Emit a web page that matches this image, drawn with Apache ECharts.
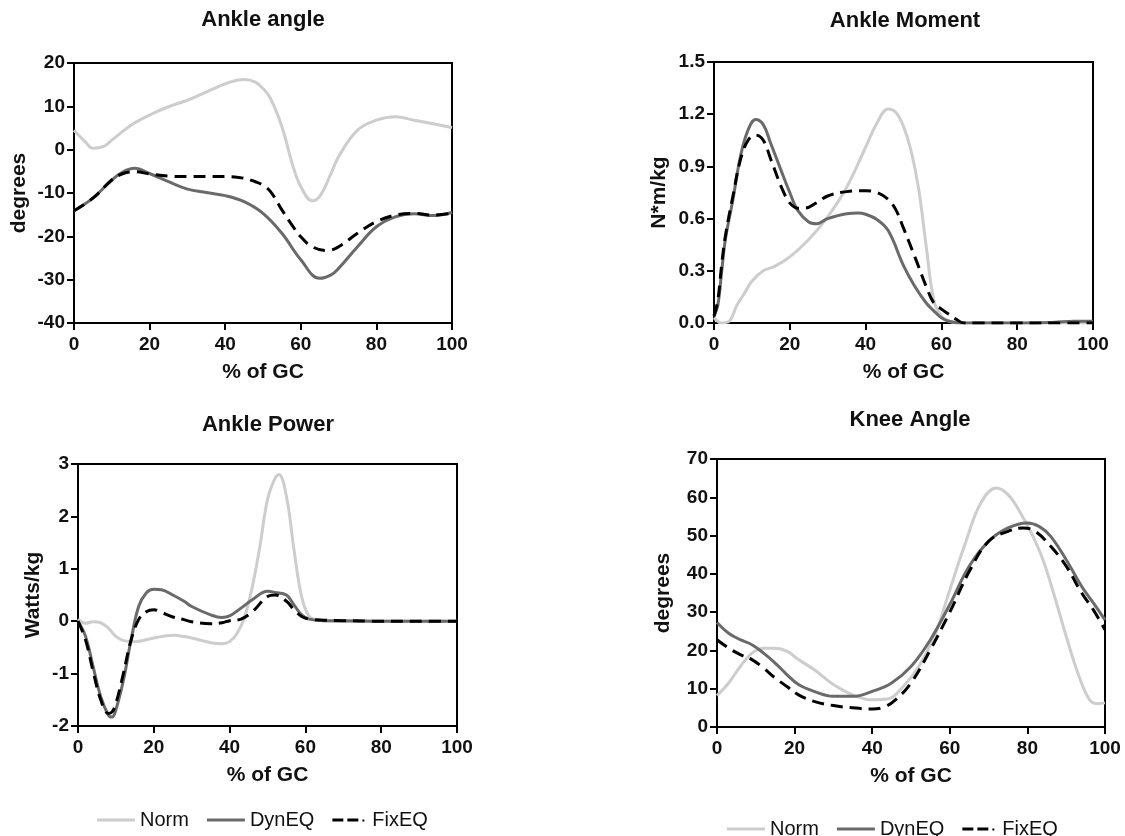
<!DOCTYPE html>
<html>
<head>
<meta charset="utf-8">
<script src="https://cdn.jsdelivr.net/npm/echarts@6/dist/echarts.min.js"></script>
<style>
html,body{margin:0;padding:0;background:#fff;}
#c{width:1125px;height:836px;}
</style>
</head>
<body>
<div id="c"></div>
<script>
// ---- Data ----
const panelTitles = ['Ankle angle', 'Ankle Moment', 'Ankle Power', 'Knee Angle'];
const yNames = ['degrees', 'N*m/kg', 'Watts/kg', 'degrees'];
const xName = '% of GC';
const seriesNames = ['Norm', 'DynEQ', 'FixEQ'];

// Ankle angle
const angleNormX = [0,3,5,8,10,15,20,25,30,35,40,45,48,50,52,55,58,60,63,65,68,70,75,80,85,90,95,100];
const angleNormY = [4.5,1.8,0.3,0.8,2.2,5.6,8,9.9,11.4,13.3,15.2,16.2,15.6,14.1,11.8,5.3,-4,-8.5,-11.8,-10.8,-5.5,-1.6,4.5,6.8,7.6,6.8,6,5.1];
const angleDynX = [0,5,10,13,16,20,25,30,35,40,45,50,55,60,65,68,70,75,80,85,90,95,100];
const angleDynY = [-14.1,-11.2,-7,-5.1,-4.3,-5.5,-7.4,-9.1,-9.9,-10.6,-12,-14.7,-19.3,-25.4,-29.7,-28.9,-27.4,-22.4,-17.8,-15.5,-14.8,-15.2,-14.5];
const angleFixX = [0,5,10,13,16,20,25,30,35,40,45,48,50,52,55,58,60,63,67,70,75,80,85,90,95,100];
const angleFixY = [-14.1,-11.2,-7,-5.5,-5.1,-5.6,-6.1,-6.2,-6.2,-6.2,-6.6,-7.4,-8.2,-9.7,-13.9,-17.8,-20.1,-22.4,-23.3,-22.4,-19.3,-16.6,-15.1,-14.7,-15.1,-14.7];

// Ankle moment
const momNormX = [0,2,4,6,8,10,13,16,20,25,30,35,40,43,46,48,50,52,54,56,58,60,62,65,70,80,90,100];
const momNormY = [0.03,0,0.01,0.1,0.17,0.24,0.3,0.325,0.38,0.48,0.61,0.78,1.01,1.15,1.23,1.21,1.13,0.99,0.77,0.44,0.13,0.04,0.01,0,0,0,0,0];
const momDynX = [0,1,2,3,5,7,9,11,13,15,18,20,22,25,27,30,35,38,40,43,46,50,53,56,58,60,62,65,70,80,85,90,95,100];
const momDynY = [0.04,0.1,0.29,0.48,0.71,0.96,1.11,1.17,1.14,1.03,0.86,0.75,0.65,0.58,0.57,0.6,0.628,0.632,0.625,0.595,0.53,0.33,0.21,0.115,0.07,0.03,0.01,0,0,0,0,0.005,0.01,0.01];
const momFixX = [0,1,2,3,5,7,9,11,13,15,18,20,22,24,27,30,35,40,43,46,48,50,53,56,58,60,62,64,66,70,80,90,100];
const momFixY = [0.04,0.13,0.33,0.5,0.73,0.94,1.05,1.08,1.05,0.94,0.77,0.69,0.66,0.66,0.69,0.73,0.755,0.76,0.75,0.71,0.65,0.545,0.38,0.21,0.115,0.08,0.05,0.02,0,0,0,0,0];

// Ankle power
const powNormX = [0,2,4,6,8,10,12,15,20,25,28,30,35,38,40,42,44,46,48,50,52,53,55,57,59,61,63,65,70,80,90,100];
const powNormY = [0.04,-0.04,-0.01,-0.03,-0.13,-0.29,-0.37,-0.39,-0.32,-0.27,-0.29,-0.32,-0.41,-0.43,-0.39,-0.23,0.09,0.66,1.43,2.32,2.73,2.8,2.38,1.36,0.47,0.09,0.03,0.01,0,0,0,0];
const powDynX = [0,2,4,6,8,9,10,12,14,16,18,20,22,25,28,30,35,38,40,43,46,50,52,55,57,59,61,65,70,80,90,100];
const powDynY = [0,-0.29,-0.87,-1.44,-1.79,-1.83,-1.69,-1.12,-0.36,0.28,0.54,0.61,0.6,0.5,0.38,0.28,0.12,0.07,0.1,0.25,0.41,0.57,0.55,0.5,0.31,0.12,0.04,0.01,0.01,0,0,0];
const powFixX = [0,2,4,6,8,9,10,12,14,16,18,20,22,25,28,30,35,38,40,43,46,50,52,55,57,59,61,65,70,80,90,100];
const powFixY = [0,-0.36,-0.96,-1.5,-1.76,-1.73,-1.57,-0.99,-0.36,0.03,0.18,0.22,0.17,0.08,0.03,-0.01,-0.05,-0.03,0.01,0.04,0.18,0.47,0.5,0.38,0.22,0.09,0.04,0.02,0.01,0,0,0];

// Knee angle
const kneeNormX = [0,3,6,9,12,15,18,21,25,30,35,40,44,48,52,56,60,64,68,72,75,78,81,84,87,90,93,96,98,100];
const kneeNormY = [8.2,11.5,15.8,19.3,20.6,20.6,19.8,17.6,15,11.1,8.4,7.1,7.3,10.6,15.8,23.7,35.8,48,58.5,62.4,60.7,56.3,50.7,43.7,34.1,23.7,14.1,7.1,6.1,6.3];
const kneeDynX = [0,3,6,9,12,15,18,21,25,30,35,40,45,50,55,60,65,70,75,80,83,86,90,94,97,100];
const kneeDynY = [27.3,24.5,22.8,21.5,19.3,16.7,13.7,11.1,9.3,8,8,9.3,11.5,15.8,22.8,32,42,48.5,52,53.3,52.4,49.8,43.7,36.7,32.4,28];
const kneeFixX = [0,3,6,9,12,15,18,21,25,30,35,40,43,46,50,55,60,65,70,75,79,82,86,90,94,97,100];
const kneeFixY = [22.8,20.6,18.9,17.6,15.4,12.8,10.6,8.4,6.7,5.6,5,4.7,5.2,7.1,11.5,20.2,30,40.6,48.5,51.1,52,51.1,47.2,42,35,30.6,25.4];

// Axis ranges / ticks
const xTicks = {min: 0, max: 100, interval: 20};
const yRanges = [
  {min: -40, max: 20, interval: 10},
  {min: 0, max: 1.5, interval: 0.3},
  {min: -2, max: 3, interval: 1},
  {min: 0, max: 70, interval: 10}
];

// ---- Layout ----
const grids = [
  {left: 74, top: 63, width: 378, height: 260},
  {left: 714, top: 62, width: 379, height: 261},
  {left: 78, top: 464, width: 379, height: 262},
  {left: 717, top: 459, width: 388, height: 268}
];
const titlePos = [[263, 9], [905, 10], [268, 414], [910, 409]];
const yNameGaps = [44, 44, 34, 43];
const xNameGap = 39;

const panelData = [
  [[angleNormX, angleNormY], [angleDynX, angleDynY], [angleFixX, angleFixY]],
  [[momNormX, momNormY], [momDynX, momDynY], [momFixX, momFixY]],
  [[powNormX, powNormY], [powDynX, powDynY], [powFixX, powFixY]],
  [[kneeNormX, kneeNormY], [kneeDynX, kneeDynY], [kneeFixX, kneeFixY]]
];

const styles = [
  {color: '#cdcdcd', width: 3, type: 'solid'},
  {color: '#6a6a6a', width: 3, type: 'solid'},
  {color: '#000000', width: 3, type: [12, 7]}
];

const FONT = 'Liberation Sans, Arial, sans-serif';
const solidIcon = 'path://M0,0h40v3h-40z';
const dashIcon = 'path://M0,0h11v3h-11z M15,0h11v3h-11z M30,1h2v2h-2z';

const legendData = [
  {name: 'Norm', icon: solidIcon},
  {name: 'DynEQ', icon: solidIcon},
  {name: 'FixEQ', icon: dashIcon}
];

const option = {
  backgroundColor: '#fff',
  animation: false,
  textStyle: {fontFamily: FONT},
  title: panelTitles.map((t, i) => ({
    text: t, left: titlePos[i][0], top: titlePos[i][1], textAlign: 'center', padding: 0,
    textStyle: {fontFamily: FONT, fontWeight: 'bold', fontSize: 22, color: '#111'}
  })),
  legend: [
    {left: 97, top: 810},
    {left: 727, top: 819}
  ].map(l => Object.assign(l, {
    data: legendData,
    orient: 'horizontal', itemWidth: 38, itemHeight: 3, itemGap: 18, padding: 0,
    textStyle: {fontFamily: FONT, fontSize: 20, color: '#111'},
    selectedMode: false
  })),
  grid: grids.map(g => Object.assign({}, g, {show: true, borderColor: '#000', borderWidth: 2, backgroundColor: 'transparent', containLabel: false})),
  xAxis: grids.map((g, i) => ({
    type: 'value', gridIndex: i, min: xTicks.min, max: xTicks.max, interval: xTicks.interval,
    name: xName, nameLocation: 'middle', nameGap: xNameGap,
    nameTextStyle: {fontFamily: FONT, fontWeight: 'bold', fontSize: 21, color: '#111'},
    axisLine: {show: true, onZero: false, lineStyle: {color: '#000', width: 2}},
    axisTick: {show: true, length: 7, lineStyle: {color: '#000', width: 2}},
    axisLabel: {fontFamily: FONT, fontWeight: 'bold', fontSize: 19, color: '#111', margin: 12},
    splitLine: {show: false}
  })),
  yAxis: grids.map((g, i) => ({
    type: 'value', gridIndex: i, min: yRanges[i].min, max: yRanges[i].max, interval: yRanges[i].interval,
    name: yNames[i], nameLocation: 'middle', nameGap: yNameGaps[i],
    nameTextStyle: {fontFamily: FONT, fontWeight: 'bold', fontSize: 21, color: '#111'},
    axisLine: {show: true, onZero: false, lineStyle: {color: '#000', width: 2}},
    axisTick: {show: true, length: 7, lineStyle: {color: '#000', width: 2}},
    axisLabel: {fontFamily: FONT, fontWeight: 'bold', fontSize: 19, color: '#111', margin: 9,
      formatter: i === 1 ? (v => v.toFixed(1)) : (v => String(v))},
    splitLine: {show: false}
  })),
  series: []
};

panelData.forEach((panel, pi) => {
  panel.forEach((pair, si) => {
    const [xs, ys] = pair;
    option.series.push({
      name: seriesNames[si], type: 'line', xAxisIndex: pi, yAxisIndex: pi,
      data: xs.map((x, k) => [x, ys[k]]),
      smooth: 0.4, symbol: 'none', showSymbol: false,
      lineStyle: {color: styles[si].color, width: styles[si].width, type: styles[si].type},
      itemStyle: {color: styles[si].color},
      z: si === 0 ? 2 : (si === 1 ? 3 : 4)
    });
  });
});

const chart = echarts.init(document.getElementById('c'), null, {renderer: 'canvas'});
chart.setOption(option);
</script>
</body>
</html>
